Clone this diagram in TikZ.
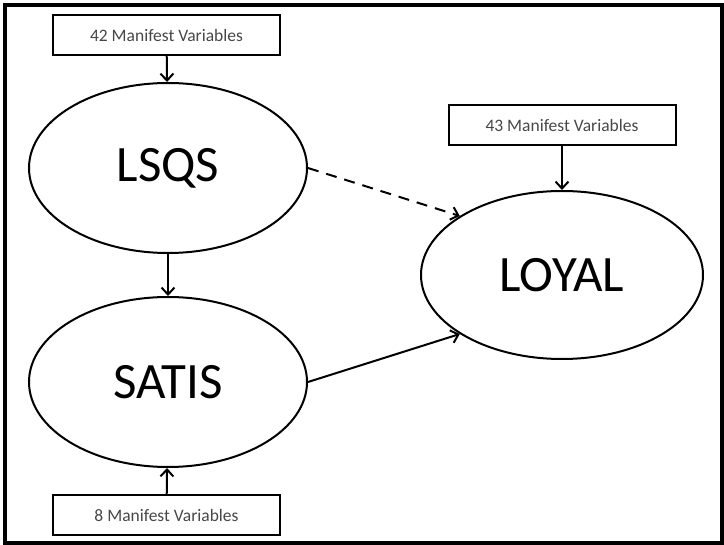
\documentclass[tikz,border=0pt]{standalone}
\usepackage{fontspec}
\setmainfont{Carlito}
\usetikzlibrary{shapes.geometric,arrows.meta}

\begin{document}
\begin{tikzpicture}[x=1pt, y=-1pt,
    latent/.style={draw, ellipse, line width=2pt, minimum width=278pt,
      minimum height=170pt, inner sep=0pt, font=\fontsize{51}{51}\selectfont},
    manifest/.style={draw, rectangle, line width=2pt, minimum width=227pt,
      minimum height=40pt, inner sep=0pt, text=black!72,
      font=\fontsize{17.5}{17.5}\selectfont},
    link/.style={line width=2pt, -{Straight Barb[length=7pt,width=13pt]}}]

    \useasboundingbox (0,0) rectangle (724,545);
    \draw[line width=4pt] (5,5) rectangle (721.5,543);

    % measurement model boxes
    \node[manifest] (mv42) at (166.5,35) {42 Manifest Variables};
    \node[manifest] (mv43) at (562,125) {43 Manifest Variables};
    \node[manifest] (mv8) at (166.5,515) {8 Manifest Variables};

    % latent constructs
    \node[latent] (lsqs) at (168,168) {LSQS};
    \node[latent] (satis) at (168,382) {SATIS};
    \node[latent, minimum width=282pt, minimum height=168pt] (loyal) at (562,275) {LOYAL};

    \draw[link] (mv42) -- (lsqs);
    \draw[link] (mv43) -- (loyal);
    \draw[link] (mv8) -- (satis);
    \draw[link] (lsqs) -- (satis);
    \draw[link] (satis.east) -- (loyal.210);
    \draw[link, dash pattern=on 11pt off 8pt] (lsqs.east) -- (loyal.150);
\end{tikzpicture}
\end{document}
